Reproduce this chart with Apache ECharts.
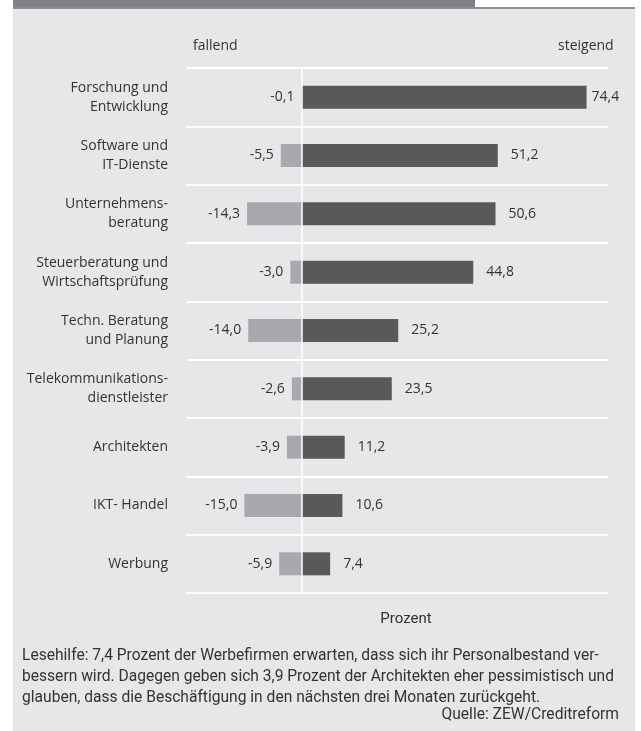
<!DOCTYPE html>
<html>
<head>
<meta charset="utf-8">
<script src="https://cdn.jsdelivr.net/npm/echarts@6/dist/echarts.min.js"></script>
<style>
  html, body { margin: 0; padding: 0; background: #ffffff; }
  #chart { width: 641px; height: 731px; }
</style>
</head>
<body>
<div id="chart"></div>
<script>
// Branchen (von oben nach unten)
var categories = [
  "Forschung und\nEntwicklung",
  "Software und\nIT-Dienste",
  "Unternehmens-\nberatung",
  "Steuerberatung und\nWirtschaftsprüfung",
  "Techn. Beratung\nund Planung",
  "Telekommunikations-\ndienstleister",
  "Architekten",
  "IKT- Handel",
  "Werbung"
];
// Anteil "fallend" (negativ) und "steigend" (positiv), Prozent
var fallend = [-0.1, -5.5, -14.3, -3.0, -14.0, -2.6, -3.9, -15.0, -5.9];
var steigend = [74.4, 51.2, 50.6, 44.8, 25.2, 23.5, 11.2, 10.6, 7.4];

var noteLines = [
  "Lesehilfe: 7,4 Prozent der Werbefirmen erwarten, dass sich ihr Personalbestand ver-",
  "bessern wird. Dagegen geben sich 3,9 Prozent der Architekten eher pessimistisch und",
  "glauben, dass die Beschäftigung in den nächsten drei Monaten zurückgeht."
];
var source = "Quelle: ZEW/Creditreform";

var fmt = function (v) {
  return v.toFixed(1).replace(".", ",");
};

var chart = echarts.init(document.getElementById("chart"), null, { renderer: "canvas" });

var txtColor = "#333333";
var labelFont = "'Open Sans', sans-serif";
var noteFont = "Roboto, sans-serif";

// the top bar label sits tight against the chart edge
var posData = steigend.map(function (v, i) {
  return i === 0 ? { value: v, label: { distance: 5 } } : v;
});

var option = {
  animation: false,
  backgroundColor: "#ffffff",
  graphic: [
    { type: "rect", z: -10, shape: { x: 13, y: 8, width: 622, height: 723 }, style: { fill: "#e6e7e8" } },
    { type: "rect", z: -9, shape: { x: 13, y: 0, width: 462, height: 7 }, style: { fill: "#808285" } },
    { type: "rect", z: -9, shape: { x: 13, y: 7, width: 622, height: 2 }, style: { fill: "#8e8f92" } },
    { type: "text", left: 193, top: 39, style: { text: "fallend", font: "14px " + labelFont, fill: txtColor } },
    { type: "text", left: 558, top: 39, style: { text: "steigend", font: "14px " + labelFont, fill: txtColor } },
    {
      type: "text", x: 406, y: 612,
      style: { text: "Prozent", font: "15px " + noteFont, fill: txtColor, align: "center" }
    },
    {
      type: "text", left: 22, top: 646,
      style: { text: noteLines.join("\n"), font: "15.6px " + noteFont, fill: txtColor, lineHeight: 21 }
    },
    {
      type: "text", right: 22, top: 707,
      style: { text: source, font: "15.6px " + noteFont, fill: txtColor, align: "right" }
    }
  ],
  grid: { left: 187, right: 33, top: 68, bottom: 138, containLabel: false },
  xAxis: {
    type: "value",
    min: -30,
    max: 80,
    axisLine: { show: false },
    axisTick: { show: false },
    axisLabel: { show: false },
    splitLine: { show: false }
  },
  yAxis: {
    type: "category",
    data: categories,
    inverse: true,
    axisLine: { show: false },
    axisTick: { show: false },
    axisLabel: {
      margin: 19,
      align: "right",
      color: txtColor,
      fontFamily: labelFont,
      fontSize: 14,
      lineHeight: 19
    },
    splitLine: { show: true, lineStyle: { color: "#ffffff", width: 2 } }
  },
  series: [
    {
      name: "fallend",
      type: "bar",
      data: fallend,
      barWidth: 23,
      barGap: "-100%",
      itemStyle: { color: "#a7a9ac" },
      label: {
        show: true,
        position: "left",
        distance: 7,
        color: txtColor,
        fontFamily: labelFont,
        fontSize: 14,
        formatter: function (p) { return fmt(p.value); }
      }
    },
    {
      name: "steigend",
      type: "bar",
      data: posData,
      barWidth: 23,
      itemStyle: { color: "#58595b" },
      label: {
        show: true,
        position: "right",
        distance: 13,
        color: txtColor,
        fontFamily: labelFont,
        fontSize: 14,
        formatter: function (p) { return fmt(p.value); }
      },
      markLine: {
        silent: true,
        symbol: ["none", "none"],
        label: { show: false },
        lineStyle: { color: "#ffffff", width: 1.5, type: "solid" },
        data: [{ xAxis: 0 }]
      }
    }
  ]
};

chart.setOption(option);
</script>
</body>
</html>
